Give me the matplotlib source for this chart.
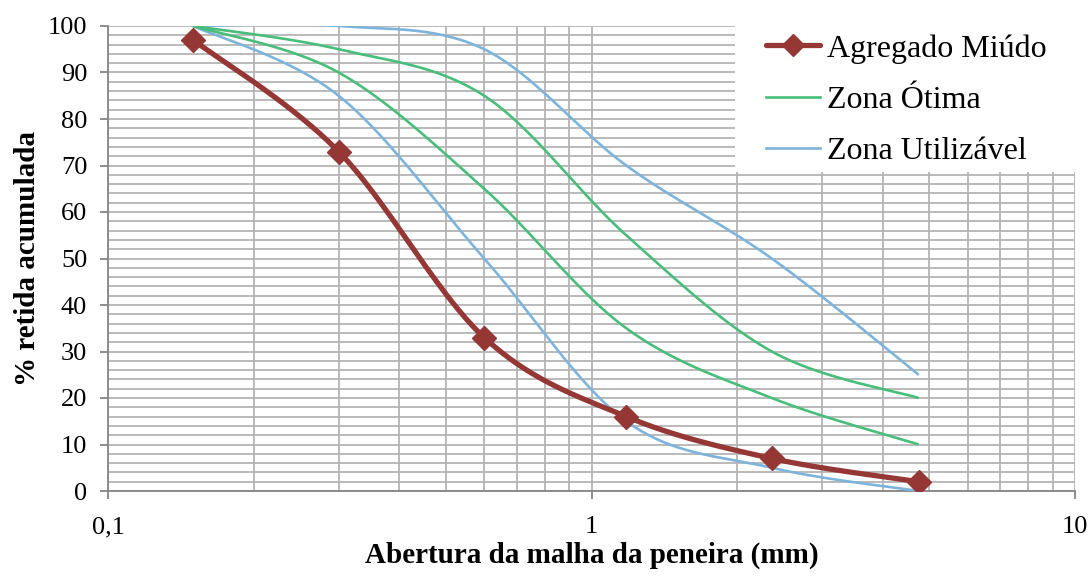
import numpy as np
import matplotlib
matplotlib.use("Agg")
import matplotlib.pyplot as plt
from matplotlib.ticker import FixedLocator, NullFormatter, MultipleLocator
from matplotlib.lines import Line2D
from matplotlib.patches import Rectangle

plt.rcParams['font.family'] = ['Liberation Serif', 'DejaVu Serif']

sieves = [0.15, 0.3, 0.6, 1.18, 2.36, 4.75]
agregado = [97, 73, 33, 16, 7, 2]
otima_inf = [100, 90, 65, 35, 20, 10]
otima_sup = [100, 95, 85, 55, 30, 20]
util_inf = [100, 85, 50, 15, 5, 0]
util_sup = [100, 100, 95, 70, 50, 25]

xlim = (0.1, 10)
ylim = (0, 100)

fig = plt.figure(figsize=(10.92, 5.79), dpi=100)
ax = fig.add_axes([108/1092, 1-491/579, (1075-108)/1092, (491-26)/579])
ax.set_xscale('log')
ax.set_xlim(*xlim)
ax.set_ylim(*ylim)

W = (1075-108); H = (491-26)


def smooth(xs, ys, n=40):
    # Excel-like Catmull-Rom Bezier smoothing in screen-like space
    u = (np.log10(xs) - np.log10(xlim[0])) / (np.log10(xlim[1]) - np.log10(xlim[0])) * W
    v = (np.asarray(ys, float) - ylim[0]) / (ylim[1] - ylim[0]) * H
    P = np.column_stack([u, v])
    m = len(P)
    out = []
    for i in range(m - 1):
        p0 = P[i - 1] if i > 0 else P[i]
        p1 = P[i]
        p2 = P[i + 1]
        p3 = P[i + 2] if i + 2 < m else P[i + 1]
        c1 = p1 + (p2 - p0) / 6
        c2 = p2 - (p3 - p1) / 6
        t = np.linspace(0, 1, n)[:, None]
        seg = (1-t)**3*p1 + 3*(1-t)**2*t*c1 + 3*(1-t)*t**2*c2 + t**3*p2
        if i > 0:
            seg = seg[1:]
        out.append(seg)
    S = np.vstack(out)
    xo = 10 ** (S[:, 0] / W * (np.log10(xlim[1]) - np.log10(xlim[0])) + np.log10(xlim[0]))
    yo = S[:, 1] / H * (ylim[1] - ylim[0]) + ylim[0]
    return xo, yo

green = '#48be7a'
blue = '#7db4dc'
red = '#953735'

for ys in (util_inf, util_sup):
    xs_, ys_ = smooth(sieves, ys)
    ax.plot(xs_, ys_, color=blue, lw=1.9, zorder=3, solid_capstyle='butt')
for ys in (otima_inf, otima_sup):
    xs_, ys_ = smooth(sieves, ys)
    ax.plot(xs_, ys_, color=green, lw=1.9, zorder=3, solid_capstyle='butt')
xs_, ys_ = smooth(sieves, agregado)
ax.plot(xs_, ys_, color=red, lw=3.8, zorder=4, solid_capstyle='round')
ax.plot(sieves, agregado, ls='none', marker='D', ms=12, color=red, zorder=5)

# white legend background
ax.add_patch(Rectangle(((735-108)/W, (491-172)/H), 1-(735-108)/W, 1-(491-172)/H,
                       transform=ax.transAxes, facecolor='white', edgecolor='none',
                       zorder=2.5, clip_on=False))

handles = [
    Line2D([], [], color=red, lw=3.8, marker='D', ms=11, solid_capstyle='round'),
    Line2D([], [], color=green, lw=1.9),
    Line2D([], [], color=blue, lw=1.9),
]
labels = ['Agregado Miúdo', 'Zona Ótima', 'Zona Utilizável']
leg = ax.legend(handles, labels, loc='upper left', bbox_to_anchor=((766-108)/W, (491-34)/H),
                frameon=False, fontsize=23, handlelength=1.7, handletextpad=0.2,
                borderaxespad=0, borderpad=0, labelspacing=0.69)
leg.set_zorder(10)

# grid
ax.xaxis.set_major_locator(FixedLocator([0.1, 1, 10]))
ax.xaxis.set_minor_locator(FixedLocator([k*10.0**e for e in (-1, 0) for k in range(2, 10)]))
ax.xaxis.set_minor_formatter(NullFormatter())
ax.set_xticklabels(['0,1', '1', '10'])
ax.yaxis.set_major_locator(MultipleLocator(10))
ax.yaxis.set_minor_locator(MultipleLocator(2))
gc = '#b4b4b4'
ax.grid(True, which='both', color=gc, lw=1.3, zorder=0)
ax.set_axisbelow(True)

for s in ('top', 'right'):
    ax.spines[s].set_visible(False)
for s in ('left', 'bottom'):
    ax.spines[s].set_color('#868686')
    ax.spines[s].set_linewidth(1.3)
ax.tick_params(which='major', length=6, width=1.3, color='#868686', labelsize=19)
ax.tick_params(axis='y', which='major', pad=9)
ax.tick_params(axis='x', which='major', pad=12)
ax.tick_params(which='minor', length=0)

ax.set_xlabel('Abertura da malha da peneira (mm)', fontsize=21, fontweight='bold', labelpad=3)
ax.set_ylabel('% retida acumulada', fontsize=21, fontweight='bold', labelpad=5)

fig.savefig('out.png', dpi=100)
